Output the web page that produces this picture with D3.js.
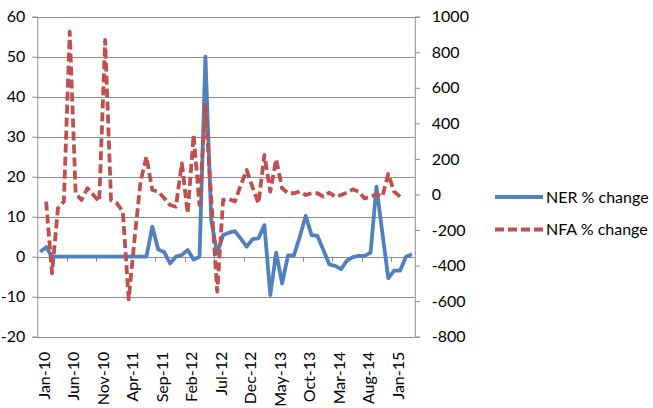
<!DOCTYPE html>
<html>
<head>
<meta charset="utf-8">
<script src="https://cdn.jsdelivr.net/npm/d3@7"></script>
<style>
  body { margin: 0; background: #fff; }
  svg { font-family: Lato, "Open Sans", sans-serif; }
</style>
</head>
<body>
<script>
// monthly categories, Jan-10 .. Apr-15
var fmt = d3.timeFormat("%b-%y");
var months = d3.timeMonth.range(new Date(2010, 0, 1), new Date(2015, 4, 1)).map(fmt);

// NER % change (left axis)
var ner = [1.2, 2.4, 0, 0, 0, 0, 0, 0, 0, 0,
  0, 0, 0, 0, 0, 0, 0, 0, 0, 7.5,
  1.8, 1.2, -1.7, 0, 0.4, 1.7, -0.7, 0, 50, 9,
  0.8, 5.4, 6, 6.4, 4.5, 2.5, 4.4, 4.6, 7.9, -9.6,
  1.0, -6.7, 0.3, 0.3, 5, 10.2, 5.4, 5.2, 1.7, -1.9,
  -2.3, -3.1, -1.0, -0.1, 0.2, 0.2, 1.0, 17.5, 6, -5.4,
  -3.5, -3.5, 0, 0.6];

// NFA % change (right axis)
var nfa = [null, -40, -443, -78, -40, 916, 7, -31, 35, -3,
  -40, 869, -31, -50, -97, -590, -247, 72, 213, 25,
  16, -20, -59, -69, 175, -106, 335, -59, 503, -30,
  -547, -31, -25, -40, 53, 138, 40, -50, 222, 16,
  198, 35, 7, 7, 16, -3, 7, 7, -12, 10,
  -12, -3, 10, 29, 16, -22, -12, 0, -12, 115,
  16, -12, null, null];

var leftTicks = [-20, -10, 0, 10, 20, 30, 40, 50, 60];
var rightTicks = [-800, -600, -400, -200, 0, 200, 400, 600, 800, 1000];
var labelMonths = months.filter(function (d, i) { return i % 5 === 0; });

var series = [
  { name: "NER % change", color: "#4F81BD", dash: null },
  { name: "NFA % change", color: "#C0504D", dash: "9,4" }
];

var W = 653, H = 408;
var pL = 37.3, pR = 414.8, pT = 16.7, pB = 336.7;
var fs = "16px";
var plain = function (d) { return String(d); }; // hyphen minus like the original

var svg = d3.select("body").append("svg")
    .attr("width", W)
    .attr("height", H);

var x = d3.scaleBand().domain(months).range([pL, pR]).padding(0);
var yL = d3.scaleLinear().domain([-20, 60]).range([pB, pT]);
var yR = d3.scaleLinear().domain([-800, 1000]).range([pB, pT]);
var cx = function (i) { return x(months[i]) + x.bandwidth() / 2; };

//gridlines
svg.append("g").selectAll("line").data(leftTicks).enter().append("line")
    .attr("x1", pL).attr("x2", pR)
    .attr("y1", function (d) { return Math.round(yL(d)) + 0.5; })
    .attr("y2", function (d) { return Math.round(yL(d)) + 0.5; })
    .attr("stroke", "#8c8c8c").attr("stroke-width", 1);

//left axis
var gl = svg.append("g").attr("transform", "translate(" + pL + ",0)")
    .call(d3.axisLeft(yL).tickValues(leftTicks).tickFormat(plain)
      .tickSize(5).tickPadding(7));
//right axis
var gr = svg.append("g").attr("transform", "translate(" + pR + ",0)")
    .call(d3.axisRight(yR).tickValues(rightTicks).tickFormat(plain)
      .tickSize(5).tickPadding(12));
[gl, gr].forEach(function (g) {
  g.select(".domain").attr("stroke", "#8c8c8c");
  g.selectAll(".tick line").attr("stroke", "#8c8c8c");
  g.selectAll("text").attr("fill", "#000").style("font-size", fs)
    .style("font-family", "Lato, sans-serif");
});

//category tick marks at the zero line, on band edges
svg.append("g").selectAll("line").data(labelMonths).enter().append("line")
    .attr("x1", function (d) { return Math.round(x(d)) + 0.5; })
    .attr("x2", function (d) { return Math.round(x(d)) + 0.5; })
    .attr("y1", yL(0)).attr("y2", yL(0) + 5)
    .attr("stroke", "#8c8c8c");

//category labels at the bottom
var gx = svg.append("g").attr("transform", "translate(0," + pB + ")")
    .call(d3.axisBottom(x).tickValues(labelMonths).tickSize(0));
gx.select(".domain").remove();
gx.selectAll("text")
    .attr("transform", "rotate(-90)")
    .attr("x", -15).attr("y", 4).attr("dy", "0.35em")
    .style("text-anchor", "end")
    .style("font-size", fs)
    .style("font-family", "Lato, sans-serif")
    .attr("fill", "#000");

//lines
var lineL = d3.line().defined(function (d) { return d != null; })
    .x(function (d, i) { return cx(i); }).y(function (d) { return yL(d); });
var lineR = d3.line().defined(function (d) { return d != null; })
    .x(function (d, i) { return cx(i); }).y(function (d) { return yR(d); });

svg.append("path").datum(ner)
    .attr("d", lineL)
    .attr("fill", "none")
    .attr("stroke", series[0].color)
    .attr("stroke-width", 3.8)
    .attr("stroke-linejoin", "round");

svg.append("path").datum(nfa)
    .attr("d", lineR)
    .attr("fill", "none")
    .attr("stroke", series[1].color)
    .attr("stroke-width", 3.8)
    .attr("stroke-dasharray", series[1].dash)
    .attr("stroke-linejoin", "round");

//legend
var lg = svg.append("g").attr("transform", "translate(495,197)");
var items = lg.selectAll("g").data(series).enter().append("g")
    .attr("transform", function (d, i) { return "translate(0," + i * 32.5 + ")"; });
items.append("line")
    .attr("x1", 0).attr("x2", 48)
    .attr("stroke", function (d) { return d.color; })
    .attr("stroke-width", 3.8)
    .attr("stroke-dasharray", function (d) { return d.dash; });
items.append("text")
    .attr("x", 51).attr("dy", "0.35em")
    .style("font-size", fs)
    .text(function (d) { return d.name; });
</script>
</body>
</html>
